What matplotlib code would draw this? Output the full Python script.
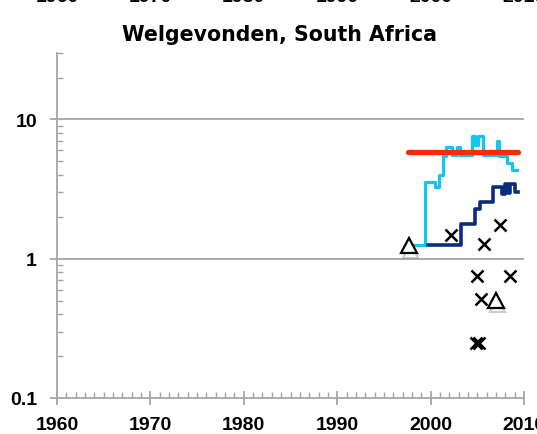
import matplotlib
matplotlib.use("Agg")
import matplotlib.pyplot as plt
import matplotlib.patheffects as pe
from matplotlib.ticker import FixedLocator, NullFormatter

# ── Donnees ─────────────────────────────────────────────────────────────────
title = "Welgevonden, South Africa"

cyan_x = [1998.15, 1999.4, 2000.5, 2000.9, 2001.35, 2001.65, 2002.25, 2002.8, 2003.2,
          2004.4, 2004.75, 2005.1, 2005.65, 2007.1, 2007.35, 2008.15, 2008.7, 2009.3]
cyan_y = [1.25, 3.55, 3.3, 4.0, 5.5, 6.3, 5.6, 6.3, 5.6,
          7.6, 6.6, 7.6, 5.6, 7.0, 5.5, 4.9, 4.35, 4.35]

navy_x = [1999.75, 2003.3, 2004.75, 2005.3, 2006.7, 2007.6, 2007.95, 2008.3,
          2008.55, 2009.0, 2009.4]
navy_y = [1.26, 1.78, 2.26, 2.55, 3.25, 2.9, 3.45, 2.95, 3.45, 3.0, 3.0]

red_x = [1997.6, 2009.4]
red_y = [5.87, 5.87]

cross_x = [2002.2, 2005.7, 2007.4, 2004.95, 2008.5, 2005.4, 2004.9, 2005.15]
cross_y = [1.49, 1.27, 1.74, 0.75, 0.75, 0.51, 0.25, 0.25]

tri_x = [1997.7, 2007.0]
tri_y = [1.24, 0.50]

year_ticks = [1960, 1970, 1980, 1990, 2000, 2010]

# ── Figure ──────────────────────────────────────────────────────────────────
W, H = 537, 435
fig = plt.figure(figsize=(W / 100, H / 100), dpi=100)
ax = fig.add_axes([57 / W, (H - 399) / H, (524 - 57) / W, (399 - 54) / H])

gray = "#a6a6a6"
ax.set_yscale("log")
ax.set_xlim(1960, 2010)
ax.set_ylim(0.1, 30)

for v in [1, 10]:
    ax.axhline(v, color=gray, lw=1.3, zorder=1)

ax.step(cyan_x, cyan_y, where="post", color="#12c6f2", lw=2.3, zorder=3)
ax.step(navy_x, navy_y, where="post", color="#0a2c7c", lw=2.6, zorder=3)
ax.plot(red_x, red_y, color="#ff2a00", lw=3.8, solid_capstyle="round", zorder=4)

ax.plot(cross_x, cross_y, ls="none", marker="x", ms=8.5, mew=1.8,
        color="black", zorder=5)
shadow = [pe.SimpleLineShadow(offset=(1, -3), shadow_color="gray", alpha=0.4),
          pe.Normal()]
ax.plot(tri_x, tri_y, ls="none", marker="^", ms=11, mew=1.6,
        mfc="white", mec="black", zorder=6, path_effects=shadow)

# ── Axes facon Excel ────────────────────────────────────────────────────────
for s in ["top", "right"]:
    ax.spines[s].set_visible(False)
for s in ["left", "bottom"]:
    ax.spines[s].set_color(gray)
    ax.spines[s].set_linewidth(1.3)

ax.set_xticks(year_ticks)
ax.set_xticklabels([str(y) for y in year_ticks])
ax.xaxis.set_minor_locator(FixedLocator(range(1960, 2011)))
ax.set_yticks([0.1, 1, 10])
ax.set_yticklabels(["0.1", "1", "10"])
ax.yaxis.set_minor_formatter(NullFormatter())

ax.tick_params(axis="both", which="major", direction="inout", length=10,
               width=1.3, color=gray, labelsize=14, pad=8)
ax.tick_params(axis="both", which="minor", direction="in", length=4,
               width=1.0, color=gray)
ax.tick_params(axis="y", which="major", direction="out", length=5, pad=9.4)
for lab in ax.get_xticklabels() + ax.get_yticklabels():
    lab.set_fontfamily("Liberation Sans")
    lab.set_fontweight("bold")

fig.text(280 / W, 1 - 35 / H, title, ha="center", va="center",
         fontsize=14.8, fontweight="bold")

# etiquettes coupees du graphique du dessus
for y in year_ticks:
    xf = (57 + (y - 1960) * 9.34) / W
    fig.text(xf, 1 - 1.5 / H, str(y), ha="center", va="baseline",
             fontsize=14, fontweight="bold", family="Liberation Sans")

fig.savefig("out.png", dpi=100)
